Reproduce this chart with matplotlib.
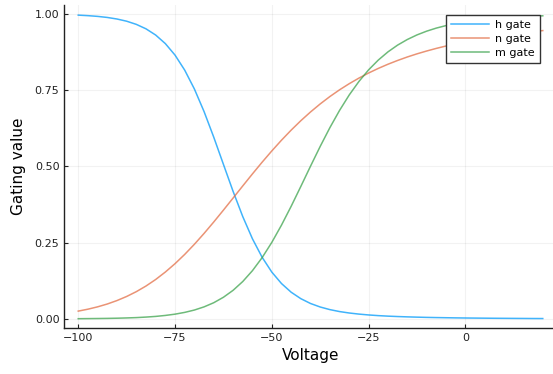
import matplotlib
matplotlib.use("Agg")
import matplotlib.pyplot as plt

# membrane voltage (mV), sampled every 2.5 mV
voltage = [-100, -97.5, -95, -92.5, -90, -87.5, -85, -82.5, -80, -77.5,
           -75, -72.5, -70, -67.5, -65, -62.5, -60, -57.5, -55, -52.5,
           -50, -47.5, -45, -42.5, -40, -37.5, -35, -32.5, -30, -27.5,
           -25, -22.5, -20, -17.5, -15, -12.5, -10, -7.5, -5, -2.5,
           0, 2.5, 5, 7.5, 10, 12.5, 15, 17.5, 20]

h_gate = [0.9963, 0.9946, 0.9922, 0.9887, 0.9836, 0.9764, 0.9660, 0.9514, 0.9310, 0.9029,
          0.8652, 0.8159, 0.7541, 0.6800, 0.5961, 0.5069, 0.4182, 0.3354, 0.2626, 0.2020,
          0.1534, 0.1159, 0.0874, 0.0662, 0.0504, 0.0389, 0.0303, 0.0239, 0.0192, 0.0156,
          0.0128, 0.0106, 0.0089, 0.0076, 0.0065, 0.0056, 0.0048, 0.0042, 0.0037, 0.0032,
          0.0028, 0.0025, 0.0022, 0.0019, 0.0017, 0.0015, 0.0013, 0.0011, 0.0010]

n_gate = [0.0254, 0.0317, 0.0394, 0.0487, 0.0600, 0.0734, 0.0892, 0.1077, 0.1291, 0.1536,
          0.1810, 0.2114, 0.2446, 0.2802, 0.3177, 0.3566, 0.3963, 0.4361, 0.4755, 0.5139,
          0.5508, 0.5860, 0.6191, 0.6500, 0.6786, 0.7050, 0.7292, 0.7513, 0.7714, 0.7897,
          0.8064, 0.8215, 0.8352, 0.8476, 0.8590, 0.8693, 0.8786, 0.8872, 0.8950, 0.9022,
          0.9087, 0.9147, 0.9203, 0.9254, 0.9301, 0.9344, 0.9384, 0.9421, 0.9456]

m_gate = [0.0005, 0.0008, 0.0011, 0.0015, 0.0021, 0.0030, 0.0041, 0.0058, 0.0080, 0.0112,
          0.0154, 0.0212, 0.0289, 0.0393, 0.0529, 0.0708, 0.0936, 0.1225, 0.1581, 0.2008,
          0.2508, 0.3074, 0.3692, 0.4344, 0.5007, 0.5656, 0.6271, 0.6837, 0.7344, 0.7786,
          0.8167, 0.8488, 0.8757, 0.8980, 0.9163, 0.9314, 0.9437, 0.9538, 0.9620, 0.9687,
          0.9742, 0.9787, 0.9823, 0.9854, 0.9878, 0.9899, 0.9916, 0.9930, 0.9941]

fig = plt.figure(figsize=(5.53, 3.74), dpi=100)
# the plot area runs a little past the right edge of the picture
ax = fig.add_axes([0.1163, 0.123, 0.8904, 0.864])

ax.plot(voltage, h_gate, color="#009AFA", lw=1.1, alpha=0.75, label="h gate")
ax.plot(voltage, n_gate, color="#E36F47", lw=1.1, alpha=0.75, label="n gate")
ax.plot(voltage, m_gate, color="#3EA44E", lw=1.1, alpha=0.75, label="m gate")

ax.set_xlim(-103.6, 23.6)
ax.set_ylim(-0.03, 1.03)
ax.set_xticks([-100, -75, -50, -25, 0])
ax.set_xticklabels(["\u2212100", "\u221275", "\u221250", "\u221225", "0"])
ax.set_yticks([0, 0.25, 0.5, 0.75, 1.0])
ax.set_yticklabels(["0.00", "0.25", "0.50", "0.75", "1.00"])
ax.tick_params(direction="in", length=3, labelsize=8, colors="#222222", width=0.8)
ax.grid(True, color="#000000", alpha=0.05, lw=0.8)

for s in ["top", "right"]:
    ax.spines[s].set_visible(False)
for s in ["left", "bottom"]:
    ax.spines[s].set_linewidth(1.0)
    ax.spines[s].set_color("#222222")

ax.set_xlabel("Voltage", fontsize=11, labelpad=4)
ax.set_ylabel("Gating value", fontsize=11, labelpad=6)

leg = ax.legend(loc="upper right", bbox_to_anchor=(0.966, 0.969), fontsize=8,
                fancybox=False, framealpha=1, edgecolor="#333333",
                handlelength=3.4, borderpad=0.45, labelspacing=0.35,
                handletextpad=0.6, borderaxespad=0)
leg.get_frame().set_linewidth(1.0)

fig.savefig("out.png", dpi=100)
